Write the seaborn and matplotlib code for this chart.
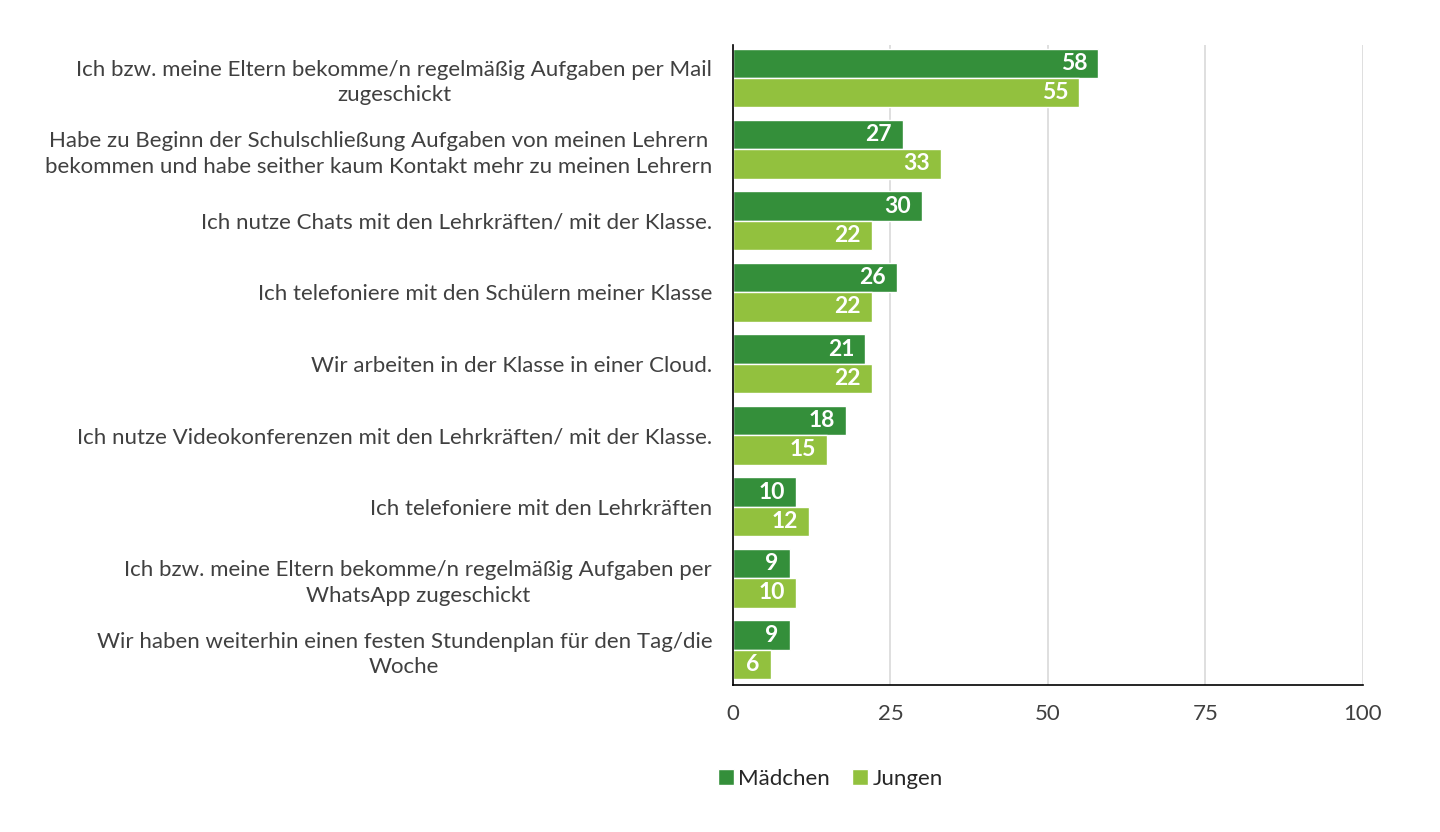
import numpy as np
import pandas as pd
import matplotlib
matplotlib.use('Agg')
import matplotlib.pyplot as plt
import seaborn as sns

categories = [
    'Ich bzw. meine Eltern bekomme/n regelmäßig Aufgaben per Mail\nzugeschickt',
    'Habe zu Beginn der Schulschließung Aufgaben von meinen Lehrern\nbekommen und habe seither kaum Kontakt mehr zu meinen Lehrern',
    'Ich nutze Chats mit den Lehrkräften/ mit der Klasse.',
    'Ich telefoniere mit den Schülern meiner Klasse',
    'Wir arbeiten in der Klasse in einer Cloud.',
    'Ich nutze Videokonferenzen mit den Lehrkräften/ mit der Klasse.',
    'Ich telefoniere mit den Lehrkräften',
    'Ich bzw. meine Eltern bekomme/n regelmäßig Aufgaben per\nWhatsApp zugeschickt',
    'Wir haben weiterhin einen festen Stundenplan für den Tag/die\nWoche',
]
maedchen = [58, 27, 30, 26, 21, 18, 10, 9, 9]
jungen = [55, 33, 22, 22, 22, 15, 12, 10, 6]
series = ['Mädchen', 'Jungen']
colors = ['#348f3a', '#92c13e']

df = pd.DataFrame({
    'Kategorie': categories * 2,
    'Wert': maedchen + jungen,
    'Gruppe': [series[0]] * len(categories) + [series[1]] * len(categories),
})

sns.set_style('white')
plt.rcParams['font.family'] = ['Lato', 'DejaVu Sans']

fig = plt.figure(figsize=(14.4, 8.32), dpi=100)
ax = fig.add_axes([0.509, 0.177, 0.4375, 0.769])

sns.barplot(data=df, y='Kategorie', x='Wert', hue='Gruppe', palette=colors,
            orient='h', width=0.82, saturation=1, ax=ax, legend=True)

# Werte rechtsbündig innen an das Balkenende
for cont in ax.containers:
    labels = [f'{v:.0f}' for v in cont.datavalues]
    txts = ax.bar_label(cont, labels=labels, padding=-8, color='white',
                        fontsize=16.5, fontweight='bold')
    for t in txts:
        t.set_ha('right')

ax.set_xlim(0, 100)
ax.set_ylim(8.49, -0.46)
ax.set_xticks([0, 25, 50, 75, 100])
ax.xaxis.grid(True, color='#d9d9d9', linewidth=1.2)
ax.set_axisbelow(True)
ax.set_xlabel('')
ax.set_ylabel('')
for s in ['top', 'right']:
    ax.spines[s].set_visible(False)
ax.spines['left'].set_color('black')
ax.spines['bottom'].set_color('black')
ax.spines['left'].set_linewidth(1.2)
ax.spines['bottom'].set_linewidth(1.2)
ax.tick_params(axis='x', length=0, pad=14, labelsize=16, labelcolor='#404040')
ax.tick_params(axis='y', length=0, pad=15, labelsize=16, labelcolor='#404040')
for t in ax.get_yticklabels():
    t.set_multialignment('center')
    t.set_linespacing(1.35)

ax.legend(loc='upper center', bbox_to_anchor=(0.155, -0.10), ncol=2,
          frameon=False, fontsize=16, handlelength=0.7, handleheight=0.7,
          handletextpad=0.2, columnspacing=1.0)

fig.savefig('out.png', dpi=100)
